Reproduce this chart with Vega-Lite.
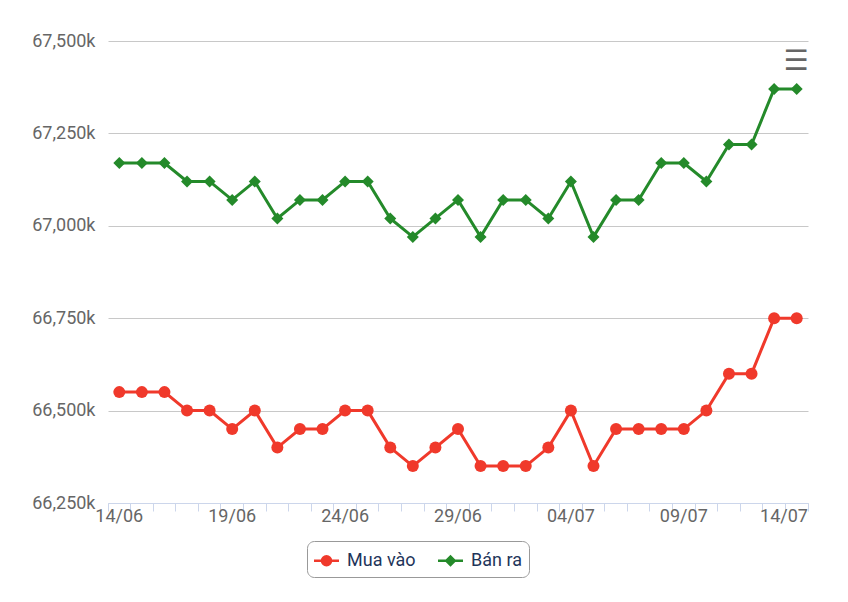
{
  "$schema": "https://vega.github.io/schema/vega-lite/v6.json",
  "width": 700,
  "height": 462,
  "autosize": {"type": "none"},
  "padding": {"left": 108, "top": 41, "right": 40, "bottom": 99},
  "background": "#ffffff",
  "config": {
    "font": "Roboto",
    "view": {"stroke": null},
    "axis": {"labelFont": "Roboto", "labelColor": "#666666", "labelFontSize": 18, "titleFont": "Roboto"},
    "legend": {"labelFont": "Roboto"}
  },
  "title": {"text": "☰", "anchor": "end", "fontSize": 28, "color": "#666666", "fontWeight": "bold", "offset": -44, "font": "DejaVu Sans"},
  "data": {
    "values": [
      {"d": "14/06", "s": "Mua vào", "v": 66550},
      {"d": "15/06", "s": "Mua vào", "v": 66550},
      {"d": "16/06", "s": "Mua vào", "v": 66550},
      {"d": "17/06", "s": "Mua vào", "v": 66500},
      {"d": "18/06", "s": "Mua vào", "v": 66500},
      {"d": "19/06", "s": "Mua vào", "v": 66450},
      {"d": "20/06", "s": "Mua vào", "v": 66500},
      {"d": "21/06", "s": "Mua vào", "v": 66400},
      {"d": "22/06", "s": "Mua vào", "v": 66450},
      {"d": "23/06", "s": "Mua vào", "v": 66450},
      {"d": "24/06", "s": "Mua vào", "v": 66500},
      {"d": "25/06", "s": "Mua vào", "v": 66500},
      {"d": "26/06", "s": "Mua vào", "v": 66400},
      {"d": "27/06", "s": "Mua vào", "v": 66350},
      {"d": "28/06", "s": "Mua vào", "v": 66400},
      {"d": "29/06", "s": "Mua vào", "v": 66450},
      {"d": "30/06", "s": "Mua vào", "v": 66350},
      {"d": "01/07", "s": "Mua vào", "v": 66350},
      {"d": "02/07", "s": "Mua vào", "v": 66350},
      {"d": "03/07", "s": "Mua vào", "v": 66400},
      {"d": "04/07", "s": "Mua vào", "v": 66500},
      {"d": "05/07", "s": "Mua vào", "v": 66350},
      {"d": "06/07", "s": "Mua vào", "v": 66450},
      {"d": "07/07", "s": "Mua vào", "v": 66450},
      {"d": "08/07", "s": "Mua vào", "v": 66450},
      {"d": "09/07", "s": "Mua vào", "v": 66450},
      {"d": "10/07", "s": "Mua vào", "v": 66500},
      {"d": "11/07", "s": "Mua vào", "v": 66600},
      {"d": "12/07", "s": "Mua vào", "v": 66600},
      {"d": "13/07", "s": "Mua vào", "v": 66750},
      {"d": "14/07", "s": "Mua vào", "v": 66750},
      {"d": "14/06", "s": "Bán ra", "v": 67170},
      {"d": "15/06", "s": "Bán ra", "v": 67170},
      {"d": "16/06", "s": "Bán ra", "v": 67170},
      {"d": "17/06", "s": "Bán ra", "v": 67120},
      {"d": "18/06", "s": "Bán ra", "v": 67120},
      {"d": "19/06", "s": "Bán ra", "v": 67070},
      {"d": "20/06", "s": "Bán ra", "v": 67120},
      {"d": "21/06", "s": "Bán ra", "v": 67020},
      {"d": "22/06", "s": "Bán ra", "v": 67070},
      {"d": "23/06", "s": "Bán ra", "v": 67070},
      {"d": "24/06", "s": "Bán ra", "v": 67120},
      {"d": "25/06", "s": "Bán ra", "v": 67120},
      {"d": "26/06", "s": "Bán ra", "v": 67020},
      {"d": "27/06", "s": "Bán ra", "v": 66970},
      {"d": "28/06", "s": "Bán ra", "v": 67020},
      {"d": "29/06", "s": "Bán ra", "v": 67070},
      {"d": "30/06", "s": "Bán ra", "v": 66970},
      {"d": "01/07", "s": "Bán ra", "v": 67070},
      {"d": "02/07", "s": "Bán ra", "v": 67070},
      {"d": "03/07", "s": "Bán ra", "v": 67020},
      {"d": "04/07", "s": "Bán ra", "v": 67120},
      {"d": "05/07", "s": "Bán ra", "v": 66970},
      {"d": "06/07", "s": "Bán ra", "v": 67070},
      {"d": "07/07", "s": "Bán ra", "v": 67070},
      {"d": "08/07", "s": "Bán ra", "v": 67170},
      {"d": "09/07", "s": "Bán ra", "v": 67170},
      {"d": "10/07", "s": "Bán ra", "v": 67120},
      {"d": "11/07", "s": "Bán ra", "v": 67220},
      {"d": "12/07", "s": "Bán ra", "v": 67220},
      {"d": "13/07", "s": "Bán ra", "v": 67370},
      {"d": "14/07", "s": "Bán ra", "v": 67370}
    ]
  },
  "encoding": {
    "x": {
      "field": "d",
      "type": "ordinal",
      "sort": null,
      "scale": {"type": "band", "paddingInner": 0, "paddingOuter": 0},
      "axis": {
        "title": null,
        "domainColor": "#ccd6eb",
        "domainWidth": 1,
        "tickColor": "#ccd6eb",
        "tickSize": 8,
        "tickWidth": 1,
        "bandPosition": 1,
        "tickExtra": true,
        "grid": false,
        "labelAngle": 0,
        "labelOverlap": false,
        "labelPadding": -4,
        "labelBaseline": "top",
        "labelExpr": "indexof(['14/06','19/06','24/06','29/06','04/07','09/07','14/07'], datum.value) >= 0 ? datum.value : ''",
        "labelAlign": {"condition": {"test": "datum.value == '14/07'", "value": "right"}, "value": "center"},
        "labelOffset": {"condition": {"test": "datum.value == '14/07'", "value": 11.29}, "value": 0}
      }
    },
    "y": {
      "field": "v",
      "type": "quantitative",
      "scale": {"domain": [66250, 67500], "nice": false, "zero": false},
      "axis": {
        "title": null,
        "values": [66250, 66500, 66750, 67000, 67250, 67500],
        "labelExpr": "format(datum.value, ',') + 'k'",
        "domain": false,
        "ticks": false,
        "labelPadding": 13,
        "gridColor": "#c8c8c8",
        "gridWidth": 1
      }
    },
    "color": {
      "field": "s",
      "type": "nominal",
      "scale": {"domain": ["Mua vào", "Bán ra"], "range": ["#f0392b", "#248a2a"]},
      "legend": {
        "title": null,
        "orient": "none",
        "legendX": 199,
        "legendY": 500,
        "direction": "horizontal",
        "strokeColor": "#999999",
        "cornerRadius": 7,
        "padding": 7,
        "labelFontSize": 18,
        "labelColor": "#1f355a",
        "labelOffset": 8,
        "columnPadding": 22,
        "symbolSize": 625,
        "symbolStrokeWidth": 0,
        "symbolOpacity": 1,
        "encode": {
          "symbols": {
            "update": {
              "opacity": {"value": 1},
              "fillOpacity": {"value": 1},
              "strokeWidth": {"value": 0}
            }
          }
        }
      }
    }
  },
  "layer": [
    {
      "mark": {"type": "line", "strokeWidth": 3},
      "encoding": {}
    },
    {
      "transform": [{"filter": "datum.s == 'Mua vào'"}],
      "mark": {"type": "point", "filled": true, "opacity": 1, "size": 144, "shape": "circle"},
      "encoding": {}
    },
    {
      "transform": [{"filter": "datum.s == 'Bán ra'"}],
      "mark": {"type": "point", "filled": true, "opacity": 1, "size": 144, "shape": "diamond"},
      "encoding": {}
    },
    {
      "transform": [{"filter": "datum.d == '14/06'"}],
      "mark": {"type": "point", "filled": true, "opacity": 0, "size": 144},
      "encoding": {
        "shape": {
          "field": "s",
          "type": "nominal",
          "scale": {
            "domain": ["Mua vào", "Bán ra"],
            "range": [
              "M-1,-0.1L1,-0.1L1,0.1L-1,0.1Z M0.46,0L0.425,0.176L0.325,0.325L0.176,0.425L0,0.46L-0.176,0.425L-0.325,0.325L-0.425,0.176L-0.46,0L-0.425,-0.176L-0.325,-0.325L-0.176,-0.425L0,-0.46L0.176,-0.425L0.325,-0.325L0.425,-0.176Z",
              "M-1,-0.1L1,-0.1L1,0.1L-1,0.1Z M0,-0.48L0.48,0L0,0.48L-0.48,0Z"
            ]
          },
          "legend": null
        }
      }
    }
  ]
}
